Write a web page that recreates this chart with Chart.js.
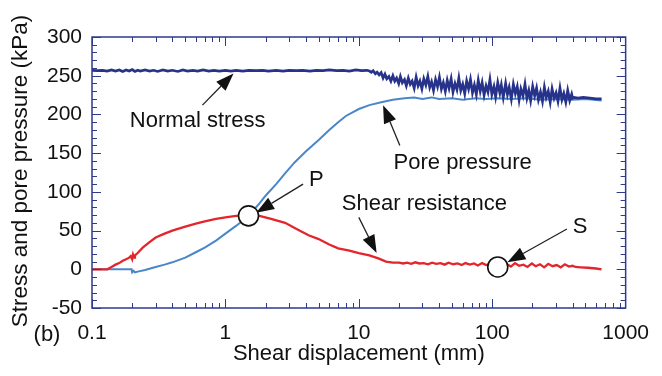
<!DOCTYPE html>
<html>
<head>
<meta charset="utf-8">
<script src="https://cdn.jsdelivr.net/npm/chart.js@4.4.1/dist/chart.umd.min.js"></script>
<style>
  html, body { margin: 0; padding: 0; background: #ffffff; }
  #wrap { width: 662px; height: 376px; }
</style>
</head>
<body>
<div id="wrap"><canvas id="c" width="662" height="376"></canvas></div>
<script>
// ---------------- DATA ----------------
const xTicks = [0.1, 1, 10, 100, 1000];
const yTicks = [-50, 0, 50, 100, 150, 200, 250, 300];

// Normal stress (kPa) vs shear displacement (mm)
const normalX = [0.1, 0.11, 0.12, 0.13, 0.14, 0.15, 0.16, 0.17, 0.18, 0.19, 0.2, 0.21, 0.22, 0.23, 0.25, 0.27, 0.29, 0.31, 0.34, 0.37,
  0.4, 0.44, 0.48, 0.52, 0.57, 0.62, 0.68, 0.75, 0.82, 0.9, 1.0, 1.1, 1.2, 1.35, 1.5, 1.7, 1.9, 2.1, 2.4, 2.7,
  3.0, 3.4, 3.8, 4.3, 4.8, 5.4, 6.0, 6.8, 7.6, 8.5, 9.5, 10.5, 11.5,
  12, 12.4, 12.8, 13.3, 13.7, 14.2, 14.7, 15.2, 15.7, 16.2, 16.8, 17.4, 18, 18.6, 19.2, 19.9, 20.5, 21.2, 22, 22.7,
  23.5, 24.3, 25.1, 26, 26.9, 27.8, 28.7, 29.7, 30.7, 31.8, 32.9, 34, 35.1, 36.3, 37.6, 38.9, 40.2, 41.6, 43, 44.5,
  46, 47.5, 49.2, 50.8, 52.6, 54.4, 56.2, 58.1, 60.1, 62.2, 64.3, 66.5, 68.7, 71.1, 73.5, 76, 78.6, 81.3, 84, 86.9,
  89.9, 92.9, 96.1, 99.4, 103, 106, 110, 114, 117, 121, 126, 130, 134, 139, 144, 149, 154, 159, 164, 170,
  176, 182, 188, 194, 201, 208, 215, 222, 230, 238, 246, 254, 263, 272, 281, 291, 301, 311, 322, 333,
  344, 356, 368, 381, 394, 400, 410, 440, 480, 540, 600, 660];
const normalY = [257, 256.5, 257, 256, 257.5, 256, 257.5, 255.5, 257.5, 256, 258, 255.5, 257, 256, 257.5, 256, 257, 255.5, 257.5, 256,
  257, 255.5, 257.5, 256, 257, 256, 257.5, 256, 257, 256, 257, 256, 257, 256, 257, 256.5, 257, 256, 257, 256,
  257, 256.5, 257, 256, 257, 256.5, 257.5, 256.5, 257, 256, 257.5, 256.5, 257,
  256, 254.5, 256.5, 252.5, 254.5, 251, 254, 247, 252, 246, 249, 243, 250, 243, 247, 240, 249, 241, 245, 237,
  247, 239, 243, 234, 248, 237, 243, 233, 246, 238, 249, 235, 242, 231, 245, 236, 248, 233, 241, 230,
  244, 234, 246, 229, 240, 232, 247, 231, 239, 227, 243, 233, 245, 228, 238, 226, 244, 230, 241, 225,
  237, 229, 245, 226, 236, 223, 241, 228, 238, 222, 240, 226, 235, 220, 239, 227, 236, 219, 233, 224,
  239, 221, 231, 218, 236, 224, 234, 219, 229, 217, 235, 222, 230, 216, 233, 221, 228, 217, 234, 219,
  227, 216, 231, 218, 226, 221, 222, 221, 222, 221, 220, 220];

// Pore pressure (kPa)
const poreX = [0.1, 0.19, 0.198, 0.2, 0.205, 0.21, 0.22, 0.25, 0.3, 0.35, 0.4, 0.5, 0.6, 0.7, 0.85, 1.0, 1.2, 1.4, 1.6, 1.8,
  2.0, 2.4, 2.8, 3.3, 4.0, 5.0, 6.0, 7.0, 8.0, 10, 12, 15, 18, 22, 26, 30, 35, 40, 50, 60,
  75, 90, 110, 140, 180, 230, 300, 400, 500, 660];
const poreY = [0, 0, 0, -4, -2, -4, -3, -1, 3, 6, 9, 15, 22, 28, 37, 46, 56, 65, 75, 85,
  95, 110, 124, 138, 152, 167, 180, 190, 198, 207, 212, 216, 219, 221, 222, 220, 222, 220, 221, 219,
  221, 220, 221, 220, 221, 219, 220, 219, 220, 218];

// Shear resistance (kPa)
const shearX = [0.1, 0.13, 0.14, 0.15, 0.16, 0.17, 0.18, 0.19, 0.195, 0.2, 0.203, 0.207, 0.21, 0.22, 0.24, 0.27, 0.3, 0.35, 0.4, 0.5,
  0.6, 0.7, 0.85, 1.0, 1.2, 1.5, 1.8, 2.2, 2.8, 3.5, 4.2, 5, 6, 7, 8.5, 10, 12, 14, 16, 18,
  20, 21.5, 23, 24.7, 26.5, 28.5, 30.6, 33, 35.4, 38, 41, 44, 47, 51, 55, 59, 63, 68, 73, 78,
  84, 90, 97, 104, 112, 120, 129, 138, 148, 159, 171, 184, 198, 212, 228, 245, 263, 283, 304, 326,
  350, 376, 400, 420, 460, 520, 600, 660];
const shearY = [0, 0, 3, 6, 8, 11, 13, 15, 17, 13, 19, 15, 18, 21, 28, 35, 41, 46, 50, 55,
  59, 62, 65, 67, 69, 70, 69, 65, 60, 51, 44, 39, 32, 27, 24, 21, 18, 14, 10, 8.5,
  8.5, 7.5, 8.5, 7, 9, 7.5, 8, 6.5, 8.5, 7, 8, 6, 8.5, 6.5, 7.5, 5.5, 8, 6, 7.5, 5,
  8, 5.5, 7, 4, 7.5, 5, 6.5, 3.5, 8, 4.5, 6, 3, 7.5, 4, 6.5, 2.5, 7, 4, 5.5, 2.5,
  6.5, 3.5, 4.5, 3, 2.5, 2, 1, 0];

// ---------------- ANNOTATIONS (data coordinates) ----------------
const notes = [
  { text: 'Normal stress',    tx: 0.62,  ty: 192, ax: 0.673, ay: 212, bx: 1.15, by: 253 },
  { text: 'Pore pressure',    tx: 60,    ty: 137, ax: 20.3,  ay: 160, bx: 15.2, by: 212 },
  { text: 'P',                tx: 4.8,   ty: 115, ax: 3.82,  ay: 110, bx: 1.70, by: 73 },
  { text: 'Shear resistance', tx: 31,    ty: 85,  ax: 10.0,  ay: 67,  bx: 13.6, by: 21 },
  { text: 'S',                tx: 455,   ty: 55,  ax: 363,   ay: 52,  bx: 130,  by: 9 }
];
const circles = [ { x: 1.49, y: 69 }, { x: 110, y: 3 } ];

// ---------------- STYLE ----------------
const FONT = '"Liberation Sans", Arial, Helvetica, sans-serif';
const NAVY = '#2e3a8e';
const toPts = (xs, ys) => xs.map((x, i) => ({ x: x, y: ys[i] }));

const decor = {
  id: 'decor',
  afterDatasetsDraw(chart) {
    const ctx = chart.ctx, xs = chart.scales.x, ys = chart.scales.y, a = chart.chartArea;
    ctx.save();
    // frame
    ctx.strokeStyle = NAVY; ctx.lineWidth = 1.5;
    ctx.strokeRect(a.left, a.top, a.right - a.left, a.bottom - a.top);
    // y minor/major ticks (inside, both sides)
    ctx.lineWidth = 1;
    ctx.beginPath();
    for (let v = -50; v <= 300; v += 10) {
      const py = Math.round(ys.getPixelForValue(v)) + 0.5;
      const len = (v % 50 === 0) ? 9 : 5;
      ctx.moveTo(a.left, py); ctx.lineTo(a.left + len, py);
      ctx.moveTo(a.right, py); ctx.lineTo(a.right - len, py);
    }
    // x log ticks (inside, top and bottom)
    for (let d = -1; d <= 2; d++) {
      for (let m = 1; m <= 9; m++) {
        const v = m * Math.pow(10, d);
        const px = Math.round(xs.getPixelForValue(v)) + 0.5;
        const len = m === 1 ? 9 : 5;
        ctx.moveTo(px, a.bottom); ctx.lineTo(px, a.bottom - len);
        ctx.moveTo(px, a.top); ctx.lineTo(px, a.top + len);
      }
    }
    ctx.stroke();

    // arrows + labels
    ctx.fillStyle = '#111'; ctx.strokeStyle = '#222';
    ctx.font = '22px ' + FONT;
    ctx.textAlign = 'center'; ctx.textBaseline = 'middle';
    notes.forEach(n => {
      const x0 = xs.getPixelForValue(n.ax), y0 = ys.getPixelForValue(n.ay);
      const x1 = xs.getPixelForValue(n.bx), y1 = ys.getPixelForValue(n.by);
      const ang = Math.atan2(y1 - y0, x1 - x0);
      const hl = 18, hw = 6.5;
      const bxp = x1 - hl * Math.cos(ang), byp = y1 - hl * Math.sin(ang);
      ctx.lineWidth = 1.3;
      ctx.beginPath(); ctx.moveTo(x0, y0); ctx.lineTo(bxp, byp); ctx.stroke();
      ctx.beginPath();
      ctx.moveTo(x1, y1);
      ctx.lineTo(bxp + hw * Math.sin(ang), byp - hw * Math.cos(ang));
      ctx.lineTo(bxp - hw * Math.sin(ang), byp + hw * Math.cos(ang));
      ctx.closePath(); ctx.fill();
      ctx.fillText(n.text, xs.getPixelForValue(n.tx), ys.getPixelForValue(n.ty));
    });
    // circles
    circles.forEach(c => {
      ctx.beginPath();
      ctx.arc(xs.getPixelForValue(c.x), ys.getPixelForValue(c.y), 10, 0, Math.PI * 2);
      ctx.fillStyle = '#ffffff'; ctx.fill();
      ctx.lineWidth = 1.6; ctx.strokeStyle = '#111'; ctx.stroke();
    });

    // axis titles and panel tag
    ctx.fillStyle = '#111';
    ctx.font = '22px ' + FONT;
    ctx.fillText('Shear displacement (mm)', (a.left + a.right) / 2, 354);
    ctx.fillText('(b)', 47, 335);
    ctx.save();
    ctx.translate(21, 171);
    ctx.rotate(-Math.PI / 2);
    ctx.font = '22.5px ' + FONT;
    ctx.fillText('Stress and pore pressure (kPa)', 0, 0);
    ctx.restore();
    ctx.restore();
  }
};

new Chart(document.getElementById('c'), {
  type: 'scatter',
  data: {
    datasets: [
      { label: 'Shear resistance', data: toPts(shearX, shearY), showLine: true, borderColor: '#e3262b', borderWidth: 2.3, pointRadius: 0, order: 0, tension: 0 },
      { label: 'Normal stress', data: toPts(normalX, normalY), showLine: true, borderColor: '#27338b', borderWidth: 2.7, pointRadius: 0, order: 1, tension: 0 },
      { label: 'Pore pressure', data: toPts(poreX, poreY), showLine: true, borderColor: '#4a87c9', borderWidth: 2, pointRadius: 0, order: 2, tension: 0 }
    ]
  },
  options: {
    responsive: false,
    animation: false,
    devicePixelRatio: 1,
    layout: { padding: { top: 37, right: 24, left: 0, bottom: 0 } },
    plugins: { legend: { display: false }, tooltip: { enabled: false } },
    scales: {
      x: {
        type: 'logarithmic', min: xTicks[0], max: xTicks[xTicks.length - 1],
        grid: { display: false, drawTicks: false },
        border: { display: false },
        afterBuildTicks: s => { s.ticks = xTicks.map(v => ({ value: v })); },
        afterFit: s => { s.height = 68; },
        ticks: {
          autoSkip: false, maxRotation: 0, padding: 13, color: '#111',
          font: { family: FONT, size: 21 },
          callback: v => String(v)
        }
      },
      y: {
        type: 'linear', min: yTicks[0], max: yTicks[yTicks.length - 1],
        grid: { display: false, drawTicks: false },
        border: { display: false },
        afterBuildTicks: s => { s.ticks = yTicks.map(v => ({ value: v })); },
        afterFit: s => { s.width = 92; },
        ticks: {
          padding: 10, color: '#111',
          font: { family: FONT, size: 21 },
          callback: v => String(v)
        }
      }
    }
  },
  plugins: [decor]
});
</script>
</body>
</html>
